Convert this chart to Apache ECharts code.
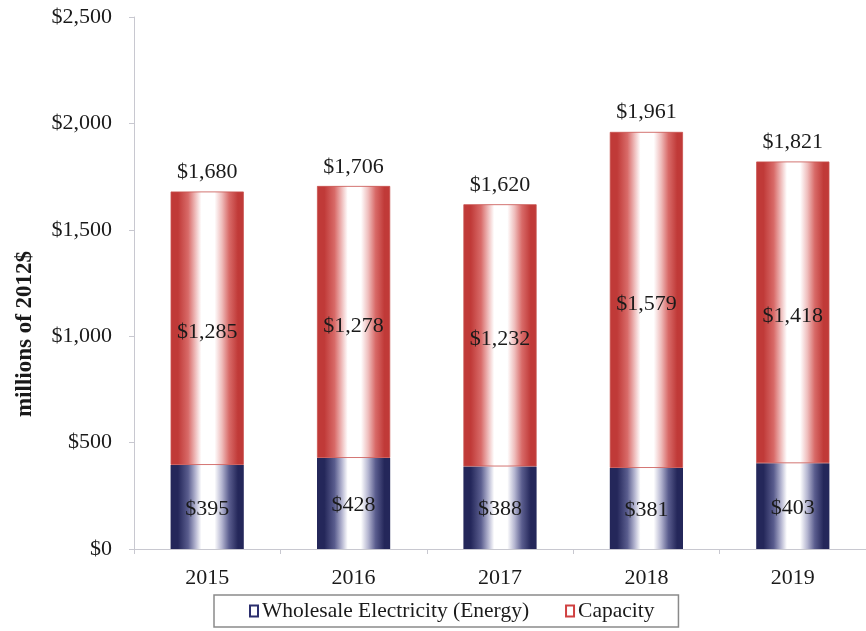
<!DOCTYPE html>
<html>
<head>
<meta charset="utf-8">
<script src="https://cdn.jsdelivr.net/npm/echarts@6/dist/echarts.min.js"></script>
<style>
  html, body { margin: 0; padding: 0; background: #ffffff; }
  #chart { width: 866px; height: 631px; }
</style>
</head>
<body>
<div id="chart"></div>
<script>
// Annual values, millions of 2012$
const years = ['2015', '2016', '2017', '2018', '2019'];
const energyValues = [395, 428, 388, 381, 403];
const capacityValues = [1285, 1278, 1232, 1579, 1418];
const totalValues = [1680, 1706, 1620, 1961, 1821];
const yTicks = { min: 0, max: 2500, interval: 500 };

const FONT = '"Liberation Serif", "Times New Roman", serif';

function money(v) {
  return '$' + Number(v).toLocaleString('en-US');
}

// Cylinder-like shading: dark edges, soft white highlight in the middle
function shade(dark, mid, light) {
  return {
    type: 'linear', x: 0, y: 0, x2: 1, y2: 0,
    colorStops: [
      { offset: 0, color: dark },
      { offset: 0.1, color: dark },
      { offset: 0.24, color: mid },
      { offset: 0.34, color: light },
      { offset: 0.42, color: '#ffffff' },
      { offset: 0.6, color: '#ffffff' },
      { offset: 0.7, color: light },
      { offset: 0.8, color: mid },
      { offset: 0.92, color: dark },
      { offset: 1, color: dark }
    ]
  };
}

const chart = echarts.init(document.getElementById('chart'), null, { renderer: 'canvas' });

chart.setOption({
  backgroundColor: '#ffffff',
  animation: false,
  grid: { left: 134, top: 17, bottom: 82, right: -10 },
  legend: {
    data: [
      { name: 'Wholesale Electricity (Energy)', itemStyle: { color: '#ffffff', borderColor: '#2c2f6e', borderWidth: 2 } },
      { name: 'Capacity', itemStyle: { color: '#ffffff', borderColor: '#d04040', borderWidth: 2 } }
    ],
    left: 214,
    top: 595,
    icon: 'rect',
    itemWidth: 8,
    itemHeight: 11,
    itemGap: 36,
    padding: [5, 24, 5, 35],
    borderColor: '#8a8a8a',
    borderWidth: 1.5,
    borderRadius: 0,
    textStyle: { fontFamily: FONT, fontSize: 21.5, color: '#1a1a1a', padding: [0, 0, 0, -1] }
  },
  xAxis: {
    type: 'category',
    data: years,
    axisLine: { lineStyle: { color: '#c8c8d0', width: 1 } },
    axisTick: { show: true, length: 5, lineStyle: { color: '#c8c8d0' } },
    axisLabel: { fontFamily: FONT, fontSize: 22, color: '#1a1a1a', margin: 18 }
  },
  yAxis: {
    type: 'value',
    min: yTicks.min,
    max: yTicks.max,
    interval: yTicks.interval,
    splitLine: { show: false },
    axisLine: { show: true, lineStyle: { color: '#c8c8d0', width: 1 } },
    axisTick: { show: true, length: 5, lineStyle: { color: '#c8c8d0' } },
    axisLabel: { fontFamily: FONT, fontSize: 22, color: '#1a1a1a', margin: 22, formatter: money }
  },
  graphic: [
    {
      type: 'text',
      x: 25,
      y: 334,
      rotation: Math.PI / 2,
      style: {
        text: 'millions of 2012$',
        fontFamily: FONT,
        fontWeight: 'bold',
        fontSize: 23,
        fill: '#1a1a1a',
        align: 'center',
        verticalAlign: 'middle'
      }
    }
  ],
  series: [
    {
      name: 'Wholesale Electricity (Energy)',
      type: 'bar',
      stack: 'total',
      barWidth: '50%',
      data: energyValues,
      itemStyle: { color: shade('#24275a', '#5a5d8e', '#b4b5d0') },
      label: {
        show: true, position: 'inside', offset: [0, 2], formatter: p => money(p.value),
        fontFamily: FONT, fontSize: 22, color: '#1a1a1a'
      }
    },
    {
      name: 'Capacity',
      type: 'bar',
      stack: 'total',
      barWidth: '50%',
      data: capacityValues,
      itemStyle: {
        color: shade('#c03a38', '#d86a68', '#efbdbc'),
        borderColor: '#c8504e',
        borderWidth: 0.8
      },
      label: {
        show: true, position: 'inside', offset: [0, 4], formatter: p => money(p.value),
        fontFamily: FONT, fontSize: 22, color: '#1a1a1a'
      }
    },
    {
      // invisible overlay carrying the total labels above each stack
      name: 'Total',
      type: 'bar',
      barWidth: '50%',
      barGap: '-100%',
      data: totalValues,
      z: 1,
      silent: true,
      itemStyle: { color: 'rgba(0,0,0,0)' },
      label: {
        show: true, position: 'top', distance: 8, formatter: p => money(p.value),
        fontFamily: FONT, fontSize: 22, color: '#1a1a1a'
      }
    }
  ]
});
</script>
</body>
</html>
